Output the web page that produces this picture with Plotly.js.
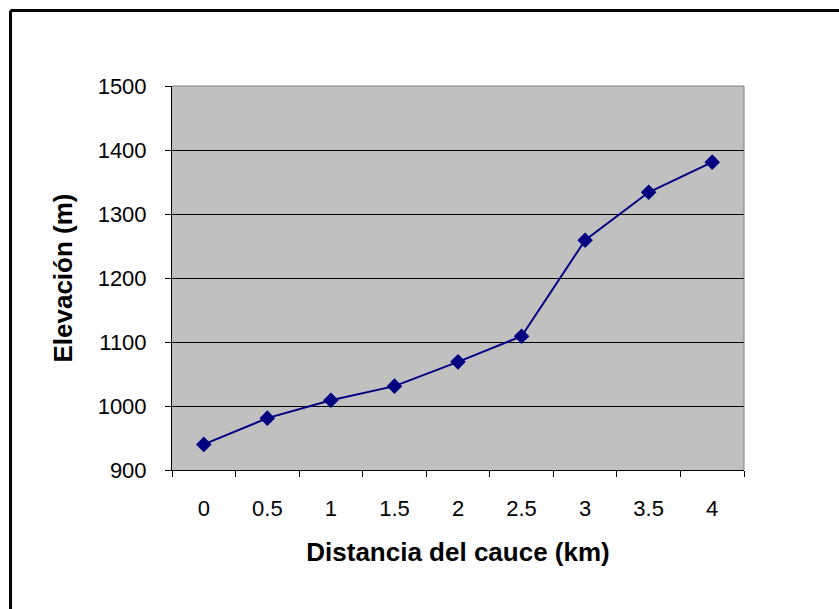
<!DOCTYPE html>
<html>
<head>
<meta charset="utf-8">
<script src="https://cdn.plot.ly/plotly-3.0.1.min.js"></script>
<style>html,body{margin:0;padding:0;background:#fff;}#chart{width:839px;height:609px;}</style>
</head>
<body>
<div id="chart"></div>
<script>
var distancias = ["0", "0.5", "1", "1.5", "2", "2.5", "3", "3.5", "4"];
var elevaciones = [940, 981, 1009, 1031, 1069, 1109, 1259, 1334, 1381];
var yTicks = [900, 1000, 1100, 1200, 1300, 1400, 1500];

var trace = {
  x: distancias,
  y: elevaciones,
  type: 'scatter',
  mode: 'lines+markers',
  line: {color: '#000080', width: 2},
  marker: {symbol: 'diamond', color: '#000080', size: 12},
  hoverinfo: 'x+y'
};

var layout = {
  width: 839, height: 609,
  margin: {l: 172, r: 95, t: 86, b: 139},
  paper_bgcolor: '#ffffff',
  plot_bgcolor: '#c0c0c0',
  showlegend: false,
  font: {family: 'Liberation Sans, Arial, sans-serif', color: '#000', size: 22},
  xaxis: {
    type: 'category',
    range: [-0.5, distancias.length - 0.5],
    tickson: 'boundaries',
    ticks: 'outside', ticklen: 6, tickcolor: '#000', tickwidth: 1,
    showgrid: false, zeroline: false,
    showline: true, linecolor: '#000', linewidth: 1,
    tickfont: {size: 22},
    ticklabelstandoff: 19,
    title: {text: 'Distancia del cauce (km)', font: {size: 26, weight: 'bold'}, standoff: 22}
  },
  yaxis: {
    range: [900, 1500],
    tickvals: yTicks,
    ticks: 'outside', ticklen: 6, tickcolor: '#000', tickwidth: 1,
    showgrid: true, gridcolor: '#000', gridwidth: 1,
    zeroline: false,
    showline: true, linecolor: '#000', linewidth: 1,
    tickfont: {size: 22},
    ticklabelstandoff: 14,
    title: {text: 'Elevación (m)', font: {size: 26, weight: 'bold'}, standoff: 17}
  },
  shapes: [
    {type: 'line', xref: 'paper', yref: 'paper', x0: 0, x1: 1, y0: 1, y1: 1, line: {color: '#808080', width: 1}},
    {type: 'line', xref: 'paper', yref: 'paper', x0: 1, x1: 1, y0: 0, y1: 1, line: {color: '#808080', width: 1}},
    {type: 'line', xref: 'paper', yref: 'paper', x0: -0.2823, x1: -0.2823, y0: -0.5, y1: 1.1966, line: {color: '#000', width: 3}},
    {type: 'line', xref: 'paper', yref: 'paper', x0: -0.2823, x1: 1.3, y0: 1.1966, y1: 1.1966, line: {color: '#000', width: 3}}
  ]
};

Plotly.newPlot('chart', [trace], layout, {displayModeBar: false, staticPlot: true});
</script>
</body>
</html>
